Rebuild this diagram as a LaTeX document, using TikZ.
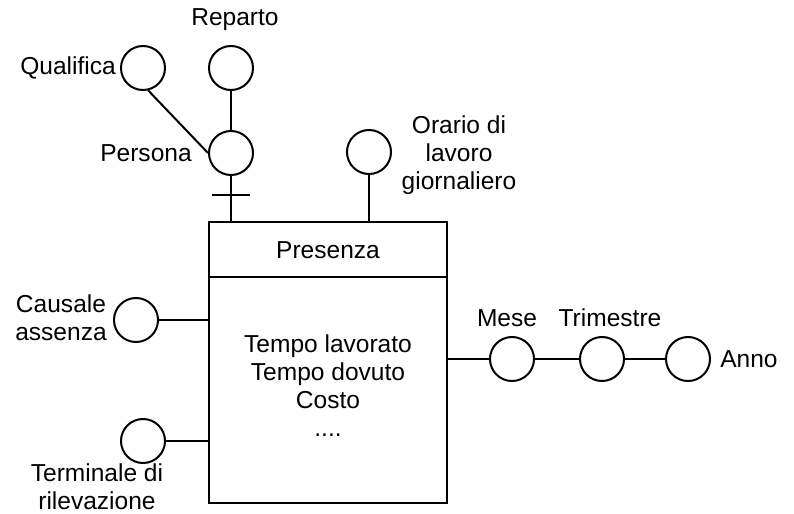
\documentclass[tikz,border=0pt]{standalone}
\usepackage{fontspec}
\setmainfont{Liberation Sans}
\begin{document}
\begin{tikzpicture}[x=0.75pt,y=-0.75pt,font=\fontsize{18.4}{21}\selectfont,
  attr/.style={circle,draw,line width=1.5pt,minimum size=33pt,inner sep=0pt},
  link/.style={line width=1.5pt},
  lbl/.style={inner sep=0pt,align=center}]
\useasboundingbox (0,0) rectangle (794,514);
% fact
\node[draw,line width=1pt,minimum width=178.5pt,minimum height=210.75pt,inner sep=0pt] (fact) at (328,362.5) {};
\coordinate (div) at (328,277);
\draw[line width=1pt] (fact.west |- div) -- (fact.east |- div);
\node[lbl] (factname) at (328,250) {Presenza};
\node[lbl] (measures) at (328,386) {Tempo lavorato\\Tempo dovuto\\Costo\\....};
% attributes
\node[attr] (qualifica) at (143,68) {};
\node[attr] (reparto) at (231,68) {};
\node[attr] (persona) at (231,153) {};
\node[attr] (orario) at (369,152) {};
\node[attr] (causale) at (136,320) {};
\node[attr] (terminale) at (143,441) {};
\node[attr] (mese) at (512,359) {};
\node[attr] (trimestre) at (602,359) {};
\node[attr] (anno) at (688,359) {};
% labels
\node[lbl,anchor=east] (qualifica-lbl) at (116,68) {Qualifica};
\node[lbl] (reparto-lbl) at (235,20) {Reparto};
\node[lbl] (persona-lbl) at (146,153) {Persona};
\node[lbl] (orario-lbl) at (459,155) {Orario di\\lavoro\\giornaliero};
\node[lbl] (causale-lbl) at (61,318) {Causale\\assenza};
\node[lbl] (terminale-lbl) at (97,487) {Terminale di\\rilevazione};
\node[lbl] (mese-lbl) at (507,318) {Mese};
\node[lbl] (trimestre-lbl) at (610,318) {Trimestre};
\node[lbl] (anno-lbl) at (749,359) {Anno};
% connectors
\draw[link] (qualifica.-77) -- (persona.west);
\draw[link] (reparto) -- (persona);
\draw[link] (persona) -- (persona |- fact.north);
\coordinate (tick) at (231,195);
\draw[link] ([xshift=-14.5pt]tick) -- ([xshift=14.5pt]tick);
\draw[link] (orario) -- (orario |- fact.north);
\draw[link] (causale) -- (causale -| fact.west);
\draw[link] (terminale) -- (terminale -| fact.west);
\draw[link] (mese) -- (mese -| fact.east);
\draw[link] (mese) -- (trimestre);
\draw[link] (trimestre) -- (anno);
\end{tikzpicture}
\end{document}
